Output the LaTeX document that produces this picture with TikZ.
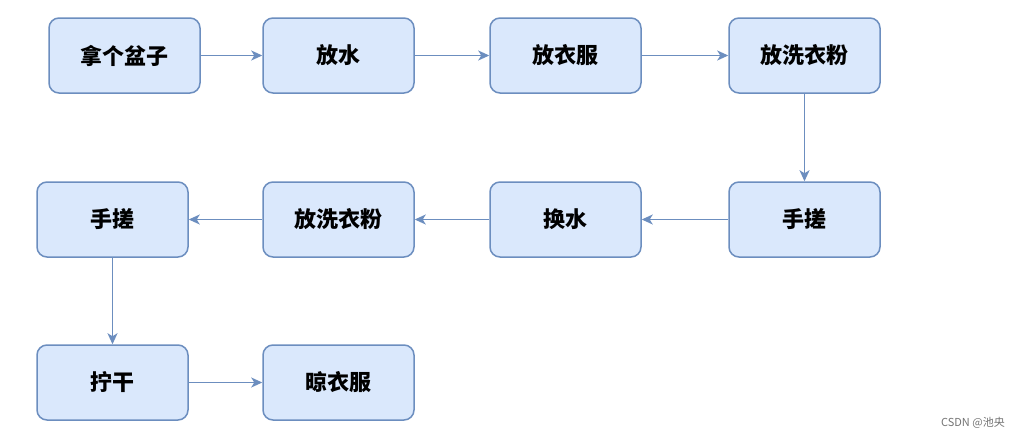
\documentclass[tikz,border=0pt]{standalone}
\usepackage{fontspec}
\setmainfont{Noto Sans CJK SC}
\usetikzlibrary{arrows.meta}
\definecolor{boxfill}{HTML}{DAE8FC}
\definecolor{boxline}{HTML}{6C8EBF}
\begin{document}
\begin{tikzpicture}[x=1pt,y=-1pt,
  stepbox/.style={draw=boxline, fill=boxfill, line width=1.5pt, rounded corners=10pt,
    minimum width=151pt, minimum height=75pt, inner sep=0pt,
    font=\fontsize{22}{25}\selectfont\bfseries},
  link/.style={draw=boxline, line width=1.5pt, -{Stealth[length=11pt,width=10pt,inset=3pt]}}]
\useasboundingbox (0,0) rectangle (1021,439);
\node[stepbox] (a) at (124.5,55.5) {拿个盆子};
\node[stepbox] (b) at (338.5,55.5) {放水};
\node[stepbox] (c) at (565.5,55.5) {放衣服};
\node[stepbox] (d) at (804.5,55.5) {放洗衣粉};
\node[stepbox] (e) at (804.5,219.5) {手搓};
\node[stepbox] (f) at (565.5,219.5) {换水};
\node[stepbox] (g) at (338.5,219.5) {放洗衣粉};
\node[stepbox] (h) at (112.5,219.5) {手搓};
\node[stepbox] (i) at (112.5,382.5) {拧干};
\node[stepbox] (j) at (338.5,382.5) {晾衣服};
\draw[link] (a) -- (b);
\draw[link] (b) -- (c);
\draw[link] (c) -- (d);
\draw[link] (d) -- (e);
\draw[link] (e) -- (f);
\draw[link] (f) -- (g);
\draw[link] (g) -- (h);
\draw[link] (h) -- (i);
\draw[link] (i) -- (j);
\node[anchor=east, text=black!55, font=\fontsize{11}{13}\selectfont, inner sep=0pt] (wm) at (1005,423) {CSDN @池央};
\end{tikzpicture}
\end{document}
